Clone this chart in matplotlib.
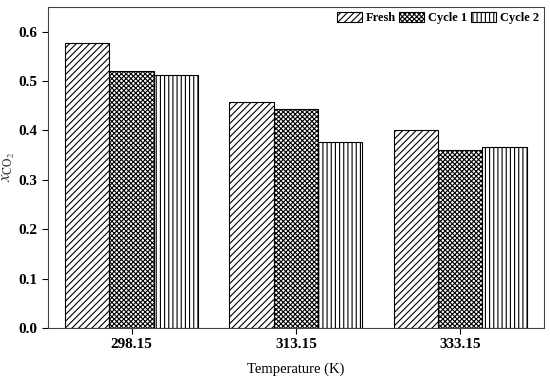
import matplotlib
matplotlib.use("Agg")
import matplotlib.pyplot as plt
import numpy as np

plt.rcParams['font.family'] = ['Liberation Serif', 'DejaVu Serif']
plt.rcParams['mathtext.fontset'] = 'stix'
plt.rcParams['hatch.linewidth'] = 0.8

temperatures = ['298.15', '313.15', '333.15']
series_names = ['Fresh', 'Cycle 1', 'Cycle 2']
fresh = [0.577, 0.458, 0.401]
cycle1 = [0.521, 0.444, 0.361]
cycle2 = [0.513, 0.377, 0.366]
hatches = ['/////', 'xxxxxxx', '||||']

fig, ax = plt.subplots(figsize=(5.5, 3.81), dpi=100)
fig.subplots_adjust(left=0.087, right=0.989, top=0.982, bottom=0.139)

x = np.arange(len(temperatures))
width = 0.27
for i, (name, vals, h) in enumerate(zip(series_names, [fresh, cycle1, cycle2], hatches)):
    ax.bar(x + (i - 1) * width, vals, width, label=name, facecolor='white',
           edgecolor='black', hatch=h, linewidth=0.8)

ax.set_xlim(-0.51, 2.51)
ax.set_ylim(0, 0.65)
ax.set_xticks(x)
ax.set_xticklabels(temperatures, fontsize=11, fontweight='bold')
ax.set_yticks(np.arange(0, 0.61, 0.1))
ax.set_yticklabels(['%.1f' % v for v in np.arange(0, 0.61, 0.1)], fontsize=11, fontweight='bold')
ax.tick_params(direction='out', length=4, width=0.8)
for s in ax.spines.values():
    s.set_linewidth(0.8)
    s.set_color('#444444')

ax.set_xlabel('Temperature (K)', fontsize=10.5, labelpad=8)
ax.set_ylabel(r'$x_{\mathrm{CO_2}}$', fontsize=12, color='#333333', labelpad=1)

ax.legend(loc='upper right', ncol=3, frameon=False, prop={'weight': 'bold', 'size': 9},
          handlelength=2.0, handleheight=0.9, handletextpad=0.3, columnspacing=0.3,
          borderaxespad=0.2, borderpad=0.2)

fig.savefig('out.png', dpi=100)
